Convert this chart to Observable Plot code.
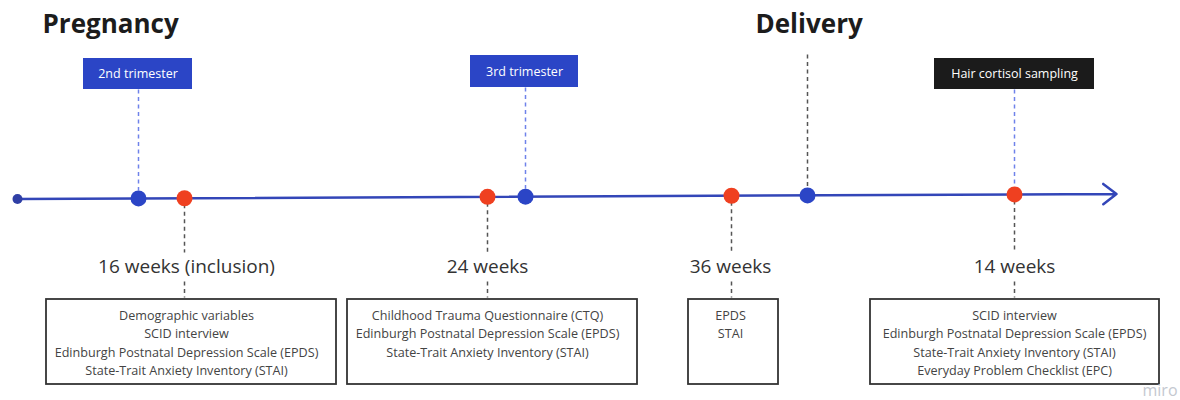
<!DOCTYPE html>
<html>
<head>
<meta charset="utf-8">
<script src="https://cdn.jsdelivr.net/npm/d3@7"></script>
<script src="https://cdn.jsdelivr.net/npm/@observablehq/plot@0.6"></script>
<style>
  html, body { margin: 0; padding: 0; background: #fff; }
  #chart { width: 1180px; height: 400px; }
</style>
</head>
<body>
<div id="chart"></div>
<script>
// ---- Data ----
// Phase headings and their timeline positions
const phaseNames = ["Pregnancy", "Delivery"];
const phaseX = [42, 755];

// Timeline span (start, end of arrow)
const timelineStart = 17;
const timelineEnd = 1116;
const timelineYStart = 198.5;
const timelineYEnd = 193.5;

// Milestones (blue dots)
const milestoneNames = ["2nd trimester", "3rd trimester", "Delivery"];
const milestoneX = [138, 525, 807];

// Header tags
const tagNames = ["2nd trimester", "3rd trimester", "Hair cortisol sampling"];
const tagX = [138, 525, 1014];
const tagX1 = [83, 470, 934];
const tagX2 = [192, 578, 1094];
const tagY1 = [58, 55, 58];
const tagY2 = [89, 87, 89];
const tagKind = ["trimester", "trimester", "sampling"];

// Assessment timepoints (red dots)
const assessmentLabels = ["16 weeks (inclusion)", "24 weeks", "36 weeks", "14 weeks"];
const assessmentX = [184, 487, 731, 1014];
const assessmentLabelX = [186, 487, 730, 1014];
const boxX1 = [46, 347, 688, 870];
const boxX2 = [336, 637, 778, 1159];
const instruments = [
  ["Demographic variables", "SCID interview", "Edinburgh Postnatal Depression Scale (EPDS)", "State-Trait Anxiety Inventory (STAI)"],
  ["Childhood Trauma Questionnaire (CTQ)", "Edinburgh Postnatal Depression Scale (EPDS)", "State-Trait Anxiety Inventory (STAI)"],
  ["EPDS", "STAI"],
  ["SCID interview", "Edinburgh Postnatal Depression Scale (EPDS)", "State-Trait Anxiety Inventory (STAI)", "Everyday Problem Checklist (EPC)"]
];

// ---- Derived tables ----
const yAt = x => timelineYStart + (x - timelineStart) * (timelineYEnd - timelineYStart) / (timelineEnd - timelineStart);
const phases = phaseNames.map((name, i) => ({name, x: phaseX[i]}));
const milestones = milestoneNames.map((name, i) => ({name, x: milestoneX[i], y: yAt(milestoneX[i])}));
const tags = tagNames.map((name, i) => ({name, x: tagX[i], x1: tagX1[i], x2: tagX2[i], y1: tagY1[i], y2: tagY2[i], kind: tagKind[i]}));
const assessments = assessmentLabels.map((label, i) => ({
  label, x: assessmentX[i], y: yAt(assessmentX[i]), lx: assessmentLabelX[i],
  x1: boxX1[i], x2: boxX2[i], text: instruments[i].join("\n")
}));
const delivery = milestones.find(d => d.name === "Delivery");

const BLUE = "#2b45c6";
const LINE = "#3346b8";
const RED = "#ef4020";
const DASH_BLUE = "#6f82ea";
const DASH_GRAY = "#555";
const TOP = 299, BOTTOM = 384;

const chart = Plot.plot({
  width: 1180,
  height: 400,
  margin: 0,
  x: {domain: [0, 1180], range: [0, 1180], axis: null},
  y: {domain: [0, 400], range: [0, 400], axis: null},
  style: {fontFamily: "'Open Sans', 'Noto Sans', sans-serif", background: "#fff"},
  marks: [
    // Phase headings
    Plot.text(phases, {x: "x", y: () => 24, text: "name", textAnchor: "start", fontSize: 26, fontWeight: 700, fill: "#1c1c1c"}),
    // Dashed connectors from tags to the timeline
    Plot.link(tags, {x1: "x", x2: "x", y1: "y2", y2: d => d.kind === "sampling" ? 184 : yAt(d.x) - 8, stroke: DASH_BLUE, strokeWidth: 1.5, strokeDasharray: "4,3.5"}),
    // Delivery dashed line
    Plot.link([delivery], {x1: "x", x2: "x", y1: () => 54, y2: d => d.y - 8, stroke: DASH_GRAY, strokeWidth: 1.5, strokeDasharray: "4,3.5"}),
    // Tag boxes
    Plot.rect(tags, {x1: "x1", x2: "x2", y1: "y1", y2: "y2", fill: d => d.kind === "sampling" ? "#1b1b1b" : BLUE}),
    Plot.text(tags, {x: d => (d.x1 + d.x2) / 2, y: d => (d.y1 + d.y2) / 2, text: "name", fill: "#fff", fontSize: 12.5}),
    // Dashed connectors from assessments downward
    Plot.link(assessments, {x1: "x", x2: "x", y1: d => d.y + 6, y2: () => 252, stroke: DASH_GRAY, strokeWidth: 1.5, strokeDasharray: "4,3.5"}),
    Plot.link(assessments, {x1: "x", x2: "x", y1: () => 281, y2: () => TOP - 2, stroke: DASH_GRAY, strokeWidth: 1.5, strokeDasharray: "4,3.5"}),
    // Timeline arrow
    Plot.arrow([0], {x1: () => timelineStart, y1: () => timelineYStart, x2: () => timelineEnd, y2: () => timelineYEnd, stroke: LINE, strokeWidth: 2.5, headLength: 10, headAngle: 75}),
    // Start dot
    Plot.dot([0], {x: () => timelineStart, y: () => timelineYStart, r: 5, fill: "#2f3fa5"}),
    // Milestone dots (blue)
    Plot.dot(milestones, {x: "x", y: "y", r: 8, fill: BLUE}),
    // Assessment dots (red)
    Plot.dot(assessments, {x: "x", y: "y", r: 8, fill: RED}),
    // Assessment labels
    Plot.text(assessments, {x: "lx", y: () => 266, text: "label", fontSize: 19, fill: "#333"}),
    // Instrument boxes
    Plot.rect(assessments, {x1: "x1", x2: "x2", y1: () => TOP, y2: () => BOTTOM, fill: "#fff", stroke: "#333", strokeWidth: 1.8}),
    Plot.text(assessments, {x: "lx", y: () => 306.5, text: "text", lineAnchor: "top", lineHeight: 1.45, fontSize: 12.6, fill: "#444"}),
    // Watermark
    Plot.text(["miro"], {x: () => 1142, y: () => 390, text: d => d, textAnchor: "start", fontSize: 16, fill: "#c4c8d0"})
  ]
});
document.getElementById("chart").appendChild(chart);
</script>
</body>
</html>
